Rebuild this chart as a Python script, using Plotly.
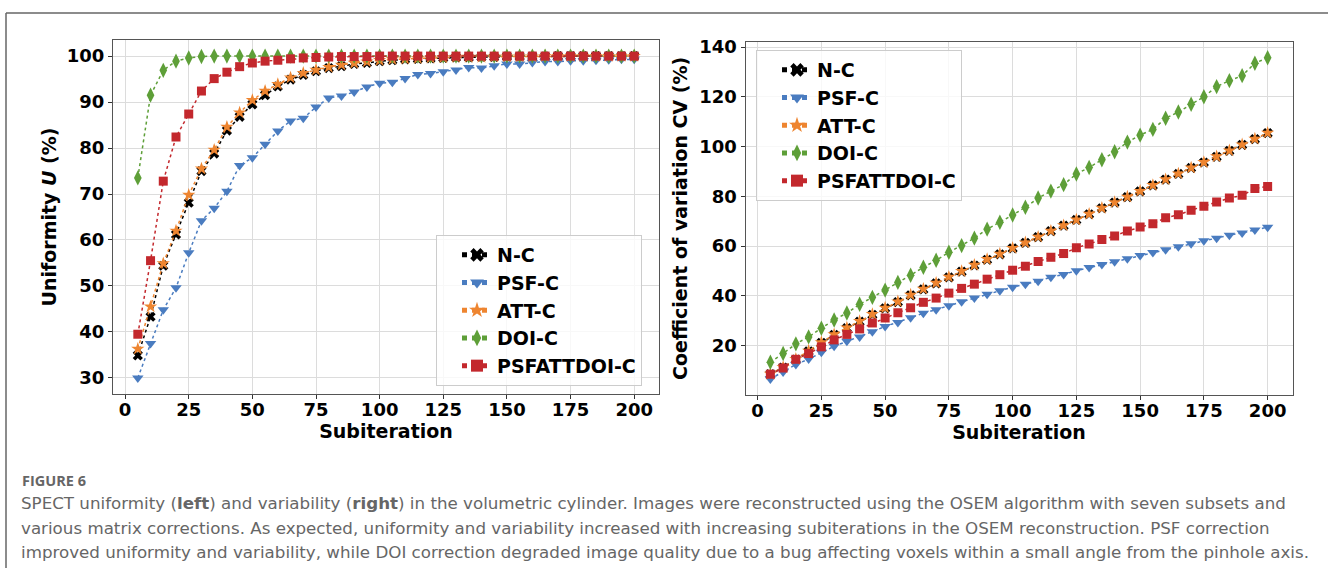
import plotly.graph_objects as go

W, H = 1328, 568

subiterations = [5, 10, 15, 20, 25, 30, 35, 40, 45, 50, 55, 60, 65, 70, 75, 80, 85, 90, 95, 100,
                 105, 110, 115, 120, 125, 130, 135, 140, 145, 150, 155, 160, 165, 170, 175, 180, 185, 190, 195, 200]

series_names = ["N-C", "PSF-C", "ATT-C", "DOI-C", "PSFATTDOI-C"]

# Uniformity U (%)
nc_u = [34.9, 43.3, 54.4, 61.2, 68.1, 75.0, 78.8, 83.8, 86.8, 89.5, 91.5, 93.4, 94.9, 95.9, 96.7, 97.4, 97.8, 98.3, 98.5, 98.9,
        99.1, 99.3, 99.4, 99.5, 99.6, 99.7, 99.7, 99.8, 99.8, 99.9, 99.9, 99.9, 99.9, 100.0, 100.0, 100.0, 100.0, 100.0, 100.0, 100.0]
psf_u = [30.0, 37.5, 44.8, 49.6, 57.2, 64.2, 66.9, 70.6, 76.2, 77.9, 80.8, 83.7, 85.9, 86.5, 88.9, 90.9, 91.3, 92.2, 93.3, 94.1,
         94.3, 95.1, 96.0, 96.2, 96.6, 97.0, 97.5, 97.4, 97.9, 98.3, 98.3, 98.6, 98.8, 98.8, 99.0, 99.0, 99.1, 99.2, 99.3, 99.3]
att_u = [36.3, 45.5, 54.9, 62.0, 69.8, 75.5, 79.6, 84.6, 87.7, 90.4, 92.4, 93.9, 95.3, 96.3, 97.0, 97.6, 98.1, 98.5, 98.8, 99.1,
         99.3, 99.4, 99.5, 99.6, 99.7, 99.8, 99.8, 99.8, 99.9, 99.9, 99.9, 99.9, 100.0, 100.0, 100.0, 100.0, 100.0, 100.0, 100.0, 100.0]
doi_u = [73.5, 91.5, 96.9, 98.9, 99.6, 99.9, 100.0, 100.0, 100.0, 100.0, 100.0, 100.0, 100.0, 100.0, 100.0, 100.0, 100.0, 100.0, 100.0, 100.0,
         100.0, 100.0, 100.0, 100.0, 100.0, 100.0, 100.0, 100.0, 100.0, 100.0, 100.0, 100.0, 100.0, 100.0, 100.0, 100.0, 100.0, 100.0, 100.0, 100.0]
pad_u = [39.5, 55.5, 72.8, 82.4, 87.4, 92.4, 95.1, 96.5, 97.7, 98.5, 98.9, 99.1, 99.4, 99.6, 99.7, 99.8, 99.9, 99.9, 99.9, 100.0,
         100.0, 100.0, 100.0, 100.0, 100.0, 100.0, 100.0, 100.0, 100.0, 100.0, 100.0, 100.0, 100.0, 100.0, 100.0, 100.0, 100.0, 100.0, 100.0, 100.0]

# Coefficient of variation CV (%)
nc_cv = [8.5, 11.2, 14.4, 17.7, 21.1, 24.3, 27.0, 29.6, 32.4, 35.0, 37.5, 40.2, 42.6, 45.0, 47.4, 49.7, 52.2, 54.5, 56.7, 59.1,
         61.3, 63.6, 66.0, 68.2, 70.5, 72.8, 75.2, 77.5, 79.7, 82.0, 84.4, 86.7, 89.0, 91.4, 93.6, 95.9, 98.3, 100.7, 103.0, 105.4]
psf_cv = [6.6, 9.4, 12.4, 14.6, 17.3, 19.7, 21.7, 23.5, 25.6, 27.7, 29.3, 31.2, 33.0, 34.4, 36.0, 37.6, 39.1, 40.6, 42.0, 43.5,
          44.7, 45.9, 47.5, 48.6, 50.1, 51.4, 52.6, 53.7, 54.9, 56.2, 57.4, 58.5, 59.7, 60.9, 62.1, 63.2, 64.4, 65.3, 66.5, 67.6]
att_cv = [8.6, 11.3, 14.6, 17.9, 21.3, 24.5, 27.2, 29.8, 32.6, 35.2, 37.7, 40.4, 42.8, 45.2, 47.6, 49.9, 52.4, 54.7, 56.9, 59.2,
          61.4, 63.7, 66.1, 68.3, 70.6, 72.9, 75.3, 77.6, 79.8, 82.1, 84.5, 86.8, 89.1, 91.5, 93.7, 96.0, 98.4, 100.8, 103.1, 105.5]
doi_cv = [13.3, 16.8, 20.7, 23.5, 27.0, 30.3, 33.1, 36.6, 39.4, 42.3, 45.4, 48.3, 51.5, 54.3, 57.5, 60.2, 63.2, 66.8, 69.6, 72.5,
          75.6, 79.3, 82.1, 84.7, 89.0, 91.6, 94.7, 97.9, 101.8, 104.6, 106.9, 111.4, 113.9, 117.0, 120.0, 124.1, 126.5, 128.5, 133.5, 135.7]
pad_cv = [8.5, 11.0, 14.5, 16.8, 19.5, 22.3, 24.5, 26.7, 29.1, 31.1, 33.2, 35.2, 37.4, 39.1, 41.1, 43.0, 44.7, 46.7, 48.5, 50.3,
          51.9, 53.8, 55.5, 57.0, 59.3, 60.8, 62.6, 64.1, 66.1, 67.7, 69.0, 71.4, 72.6, 74.4, 76.0, 77.7, 79.3, 80.4, 83.1, 84.0]

x_ticks = [0, 25, 50, 75, 100, 125, 150, 175, 200]
u_ticks = [30, 40, 50, 60, 70, 80, 90, 100]
cv_ticks = [20, 40, 60, 80, 100, 120, 140]

caption_label = "FIGURE 6"
caption_lines = [
    "SPECT uniformity (<b>left</b>) and variability (<b>right</b>) in the volumetric cylinder. Images were reconstructed using the OSEM algorithm with seven subsets and",
    "various matrix corrections. As expected, uniformity and variability increased with increasing subiterations in the OSEM reconstruction. PSF correction",
    "improved uniformity and variability, while DOI correction degraded image quality due to a bug affecting voxels within a small angle from the pinhole axis.",
]

colors = ["#000000", "#4A7CC0", "#EE8530", "#5E9F38", "#C3282D"]
symbols = ["x", "triangle-down", "star", "diamond-tall", "square"]
msizes = [9, 10, 10, 11, 9]

FONT = "DejaVu Sans"


def px(x):
    return x / W


def py(y):
    return 1 - y / H


def pad_range(vals, frac=0.05):
    lo, hi = min(vals), max(vals)
    d = (hi - lo) * frac
    return [lo - d, hi + d]


fig = go.Figure()

u_data = [nc_u, psf_u, att_u, doi_u, pad_u]
cv_data = [nc_cv, psf_cv, att_cv, doi_cv, pad_cv]

for i, name in enumerate(series_names):
    fig.add_trace(go.Scatter(
        x=subiterations, y=u_data[i], name=name, mode="lines+markers",
        line=dict(color=colors[i], width=1.5, dash="dot"),
        marker=dict(symbol=symbols[i], size=msizes[i], color=colors[i], line=dict(width=0)),
        xaxis="x", yaxis="y", legend="legend",
    ))
for i, name in enumerate(series_names):
    fig.add_trace(go.Scatter(
        x=subiterations, y=cv_data[i], name=name, mode="lines+markers",
        line=dict(color=colors[i], width=1.5, dash="dot"),
        marker=dict(symbol=symbols[i], size=msizes[i], color=colors[i], line=dict(width=0)),
        xaxis="x2", yaxis="y2", legend="legend2",
    ))

tickfont = dict(family=FONT, size=18, color="#000", weight="bold")
titlefont = dict(family=FONT, size=19, color="#000", weight="bold")

axis_common = dict(
    showline=True, mirror=True, linecolor="#555", linewidth=1,
    showgrid=True, gridcolor="#dcdcdc", gridwidth=1,
    ticks="outside", ticklen=4, tickwidth=1, tickcolor="#333",
    tickfont=tickfont, zeroline=False, automargin=False,
)

x_range = pad_range(subiterations)
u_range = pad_range([v for s in u_data for v in s])
cv_range = pad_range([v for s in cv_data for v in s])

legend_common = dict(
    font=dict(family=FONT, size=19, color="#000", weight="bold"),
    bgcolor="rgba(255,255,255,0.8)", bordercolor="#cccccc", borderwidth=1,
    xanchor="left", yanchor="top", itemsizing="constant",
    tracegroupgap=0, indentation=20,
)

annotations = [
    dict(text=caption_label, x=px(20), y=py(480), xref="paper", yref="paper",
         xanchor="left", yanchor="middle", showarrow=False,
         font=dict(family="Open Sans", size=14.5, color="#666", weight="bold")),
]
for k, line in enumerate(caption_lines):
    annotations.append(dict(
        text=line, x=px(19), y=py(503 + 24.5 * k), xref="paper", yref="paper",
        xanchor="left", yanchor="middle", showarrow=False,
        font=dict(family="DejaVu Sans", size=16.7, color="#666")))

fig.update_layout(
    width=W, height=H, margin=dict(l=0, r=0, t=0, b=0),
    paper_bgcolor="white", plot_bgcolor="white",
    showlegend=True,
    xaxis=dict(axis_common, domain=[px(113), px(659)], range=x_range, tickvals=x_ticks,
               anchor="y", ticklabelstandoff=-5,
               title=dict(text="Subiteration", font=titlefont, standoff=0)),
    yaxis=dict(axis_common, domain=[py(394), py(40)], range=u_range, tickvals=u_ticks,
               anchor="x", title=dict(text="Uniformity <i>U</i> (%)", font=titlefont, standoff=5)),
    xaxis2=dict(axis_common, domain=[px(745.5), px(1292.5)], range=x_range, tickvals=x_ticks,
                anchor="y2", ticklabelstandoff=-5,
                title=dict(text="Subiteration", font=titlefont, standoff=0)),
    yaxis2=dict(axis_common, domain=[py(395), py(41.7)], range=cv_range, tickvals=cv_ticks,
                anchor="x2", title=dict(text="Coefficient of variation CV (%)", font=titlefont, standoff=6)),
    legend=dict(legend_common, x=px(436), y=py(235)),
    legend2=dict(legend_common, x=px(756), y=py(50)),
    annotations=annotations,
    shapes=[
        dict(type="line", xref="paper", yref="paper", x0=px(6), x1=1, y0=py(13), y1=py(13),
             line=dict(color="#666", width=1.5)),
        dict(type="line", xref="paper", yref="paper", x0=px(6), x1=px(6), y0=py(13), y1=0,
             line=dict(color="#666", width=1.5)),
    ],
)

fig.write_html("out.html")
